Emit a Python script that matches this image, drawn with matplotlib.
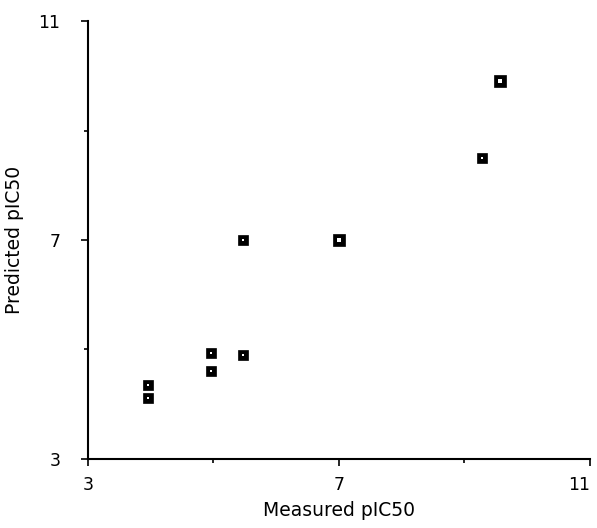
import numpy as np
import matplotlib.pyplot as plt
from matplotlib.ticker import FixedLocator

plt.rcParams['font.family'] = ['DejaVu Sans']

# measured vs predicted pIC50
measured = [3.96, 3.96, 4.96, 4.96, 5.47, 5.47, 7.0, 9.28, 9.57]
predicted = [4.35, 4.11, 4.94, 4.61, 7.0, 4.90, 7.0, 8.50, 9.90]
big = [False, False, False, False, False, False, True, False, True]

fig = plt.figure(figsize=(5.97, 5.28), dpi=100)
ax = fig.add_axes([0.1474, 0.1307, 0.8406, 0.8295])

x = np.array(measured)
y = np.array(predicted)
b = np.array(big)

# small markers
ax.plot(x[~b], y[~b], 's', ms=6.5, mfc='black', mec='black', mew=0.5, ls='none')
ax.plot(x[~b], y[~b], 's', ms=2.0, mfc='white', mec='white', mew=0, ls='none')
# big markers
ax.plot(x[b], y[b], 's', ms=8.5, mfc='black', mec='black', mew=0.5, ls='none')
ax.plot(x[b], y[b], 's', ms=2.5, mfc='white', mec='white', mew=0, ls='none')

ax.set_xlim(3, 11)
ax.set_ylim(3, 11)
ax.set_xticks([3, 7, 11])
ax.set_yticks([3, 7, 11])
ax.xaxis.set_minor_locator(FixedLocator([5, 9]))
ax.yaxis.set_minor_locator(FixedLocator([5, 9]))

ax.spines['top'].set_visible(False)
ax.spines['right'].set_visible(False)
ax.spines['left'].set_linewidth(1.5)
ax.spines['bottom'].set_linewidth(1.5)

ax.tick_params(which='major', direction='out', length=5, width=1.2, labelsize=12.5)
ax.tick_params(which='minor', direction='out', length=3, width=1.2)
ax.tick_params(axis='y', pad=15)
ax.tick_params(axis='x', pad=7)
# keep the last x label inside the figure
ax.get_xticklabels()[-1].set_horizontalalignment('right')

ax.set_xlabel('Measured pIC50', fontsize=13.5, labelpad=5)
ax.set_ylabel('Predicted pIC50', fontsize=13.5, labelpad=10)

fig.savefig('out.png', dpi=100)
